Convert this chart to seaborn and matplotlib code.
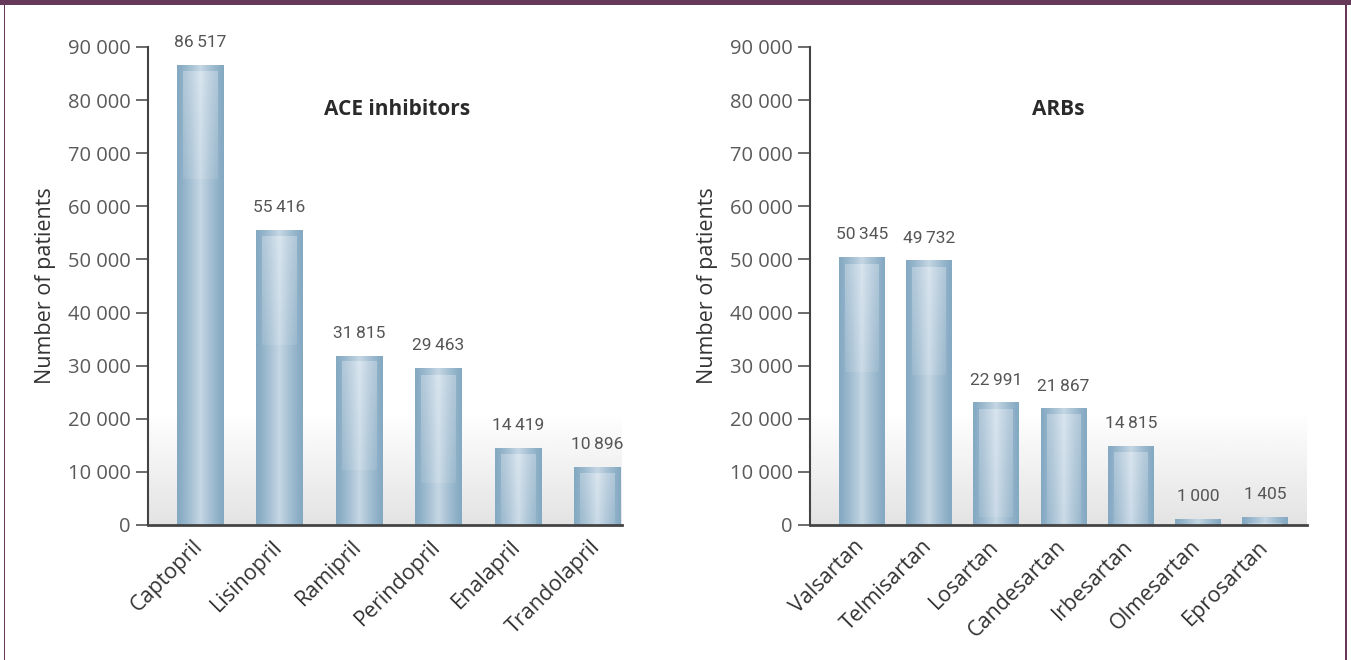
import numpy as np
import pandas as pd
import matplotlib
matplotlib.use("Agg")
import matplotlib.pyplot as plt
import matplotlib.transforms as mtransforms
from matplotlib.patches import Rectangle
from matplotlib.colors import to_rgb
import seaborn as sns

# Patients per drug
ace_drugs = ["Captopril", "Lisinopril", "Ramipril", "Perindopril", "Enalapril", "Trandolapril"]
ace_patients = [86517, 55416, 31815, 29463, 14419, 10896]
arb_drugs = ["Valsartan", "Telmisartan", "Losartan", "Candesartan", "Irbesartan", "Olmesartan", "Eprosartan"]
arb_patients = [50345, 49732, 22991, 21867, 14815, 1000, 1405]
y_ticks = [0, 10000, 20000, 30000, 40000, 50000, 60000, 70000, 80000, 90000]
panel_titles = ["ACE inhibitors", "ARBs"]
y_label = "Number of patients"

sns.set_theme(style="white")
plt.rcParams["font.family"] = ["Open Sans", "DejaVu Sans"]

FRAME = "#66385a"
EDGE = np.array(to_rgb("#84a9c2"))
MID = np.array(to_rgb("#c6d7e4"))
INNER_EDGE = np.array(to_rgb("#b4cadb"))
INNER_MID = np.array(to_rgb("#dce7f0"))


def fmt(v, sep=" "):
    return f"{v:,}".replace(",", sep)


def h_gradient(n, edge, mid):
    t = np.linspace(-1, 1, n)
    w = (1 - np.abs(t)) ** 1.2
    return edge[None, :] * (1 - w[:, None]) + mid[None, :] * w[:, None]


def shade_bars(ax, px_x, px_y):
    """Paint each bar with a cylindrical gradient and a soft inner highlight."""
    row = h_gradient(64, EDGE, MID)
    inner_row = h_gradient(64, INNER_EDGE, INNER_MID)
    for p in ax.patches:
        x0, w, h = p.get_x(), p.get_width(), p.get_height()
        p.set_facecolor("none")
        p.set_edgecolor("none")
        img = np.repeat(row[None, :, :], 2, axis=0)
        ax.imshow(img, extent=[x0, x0 + w, 0, h], aspect="auto",
                  interpolation="bilinear", zorder=2)
        # inner highlight box, inset from sides and top
        ix, iy = 6 * px_x, 6 * px_y
        top = h - iy
        bottom = max(top - 108 * px_y, 0)
        if top - bottom > 0:
            n = 40
            fade = np.linspace(0.3, 0.9, n)  # bottom -> top
            rgba = np.zeros((n, 64, 4))
            rgba[:, :, :3] = inner_row[None, :, :]
            rgba[:, :, 3] = fade[:, None]
            rgba = rgba[::-1]
            ax.imshow(rgba, extent=[x0 + ix, x0 + w - ix, bottom, top],
                      aspect="auto", interpolation="bilinear", zorder=3)


def panel(ax, names, values, title, xlim, bar_width, title_x):
    df = pd.DataFrame({"drug": names, "patients": values})
    sns.barplot(data=df, x="drug", y="patients", ax=ax, width=bar_width,
                color="#9fbcd0", saturation=1, errorbar=None, zorder=2)
    ax.set_xlim(*xlim)
    ax.set_ylim(0, 90000)

    # soft grey floor gradient behind the bars
    grad = np.linspace(0.89, 1.0, 60)[::-1]
    floor = np.repeat(grad[:, None], 2, axis=1)
    ax.imshow(floor, extent=[xlim[0], xlim[1], 0, 21500], aspect="auto",
              cmap="gray", vmin=0, vmax=1, interpolation="bilinear", zorder=0)

    bbox = ax.get_window_extent()
    px_x = (xlim[1] - xlim[0]) / bbox.width
    px_y = 90000 / bbox.height
    shade_bars(ax, px_x, px_y)

    for i, v in enumerate(values):
        ax.annotate(fmt(v, "\u2009"), (i, v), xytext=(0, 11), textcoords="offset points",
                    ha="center", va="bottom", fontsize=12.5, color="#555555",
                    family=["Roboto", "DejaVu Sans"])

    ax.set_yticks(y_ticks)
    ax.set_yticklabels([fmt(t) for t in y_ticks])
    ax.tick_params(axis="y", left=True, length=8.5, width=1.1, color="#444444",
                   labelsize=14.5, labelcolor="#5a5a5a", pad=4)
    ax.tick_params(axis="x", bottom=False, labelsize=15.5, labelcolor="#333333", pad=2)
    shift = mtransforms.ScaledTranslation(-8 / 100, 0, ax.figure.dpi_scale_trans)
    for lab in ax.get_xticklabels():
        lab.set_rotation(45)
        lab.set_ha("right")
        lab.set_rotation_mode("anchor")
        lab.set_transform(lab.get_transform() + shift)

    ax.set_xlabel("")
    ax.set_ylabel(y_label, fontsize=15.5, color="#333333")

    for side in ("top", "right"):
        ax.spines[side].set_visible(False)
    ax.spines["left"].set_color("#444444")
    ax.spines["left"].set_linewidth(1.5)
    ax.spines["bottom"].set_color("#444444")
    ax.spines["bottom"].set_linewidth(2.0)
    ax.spines["bottom"].set_zorder(5)

    ax.text(title_x, 0.87, title, transform=ax.transAxes, ha="center",
            va="center", fontsize=15, fontweight="bold", color="#2a2a2a")
    ax.set_facecolor("white")


fig = plt.figure(figsize=(13.51, 6.6), dpi=100)
ax1 = fig.add_axes([148 / 1351, 1 - 525 / 660, 474 / 1351, 478 / 660])
ax2 = fig.add_axes([810 / 1351, 1 - 525 / 660, 497 / 1351, 478 / 660])

panel(ax1, ace_drugs, ace_patients, panel_titles[0], (-0.655, 5.31), 0.58, 0.525)
panel(ax2, arb_drugs, arb_patients, panel_titles[1], (-0.77, 6.62), 0.68, 0.499)

ax1.yaxis.set_label_coords(-0.194, 0.5)
ax2.yaxis.set_label_coords(-0.185, 0.5)

# purple page frame
fig.patches.append(Rectangle((0, 1 - 5 / 660), 1, 5 / 660, transform=fig.transFigure,
                             facecolor=FRAME, edgecolor="none", zorder=10))
fig.patches.append(Rectangle((3.5 / 1351, 0), 2 / 1351, 1, transform=fig.transFigure,
                             facecolor=FRAME, edgecolor="none", zorder=10))
fig.patches.append(Rectangle((1345 / 1351, 0), 2 / 1351, 1, transform=fig.transFigure,
                             facecolor=FRAME, edgecolor="none", zorder=10))

fig.savefig("out.png", dpi=100, facecolor="white")
